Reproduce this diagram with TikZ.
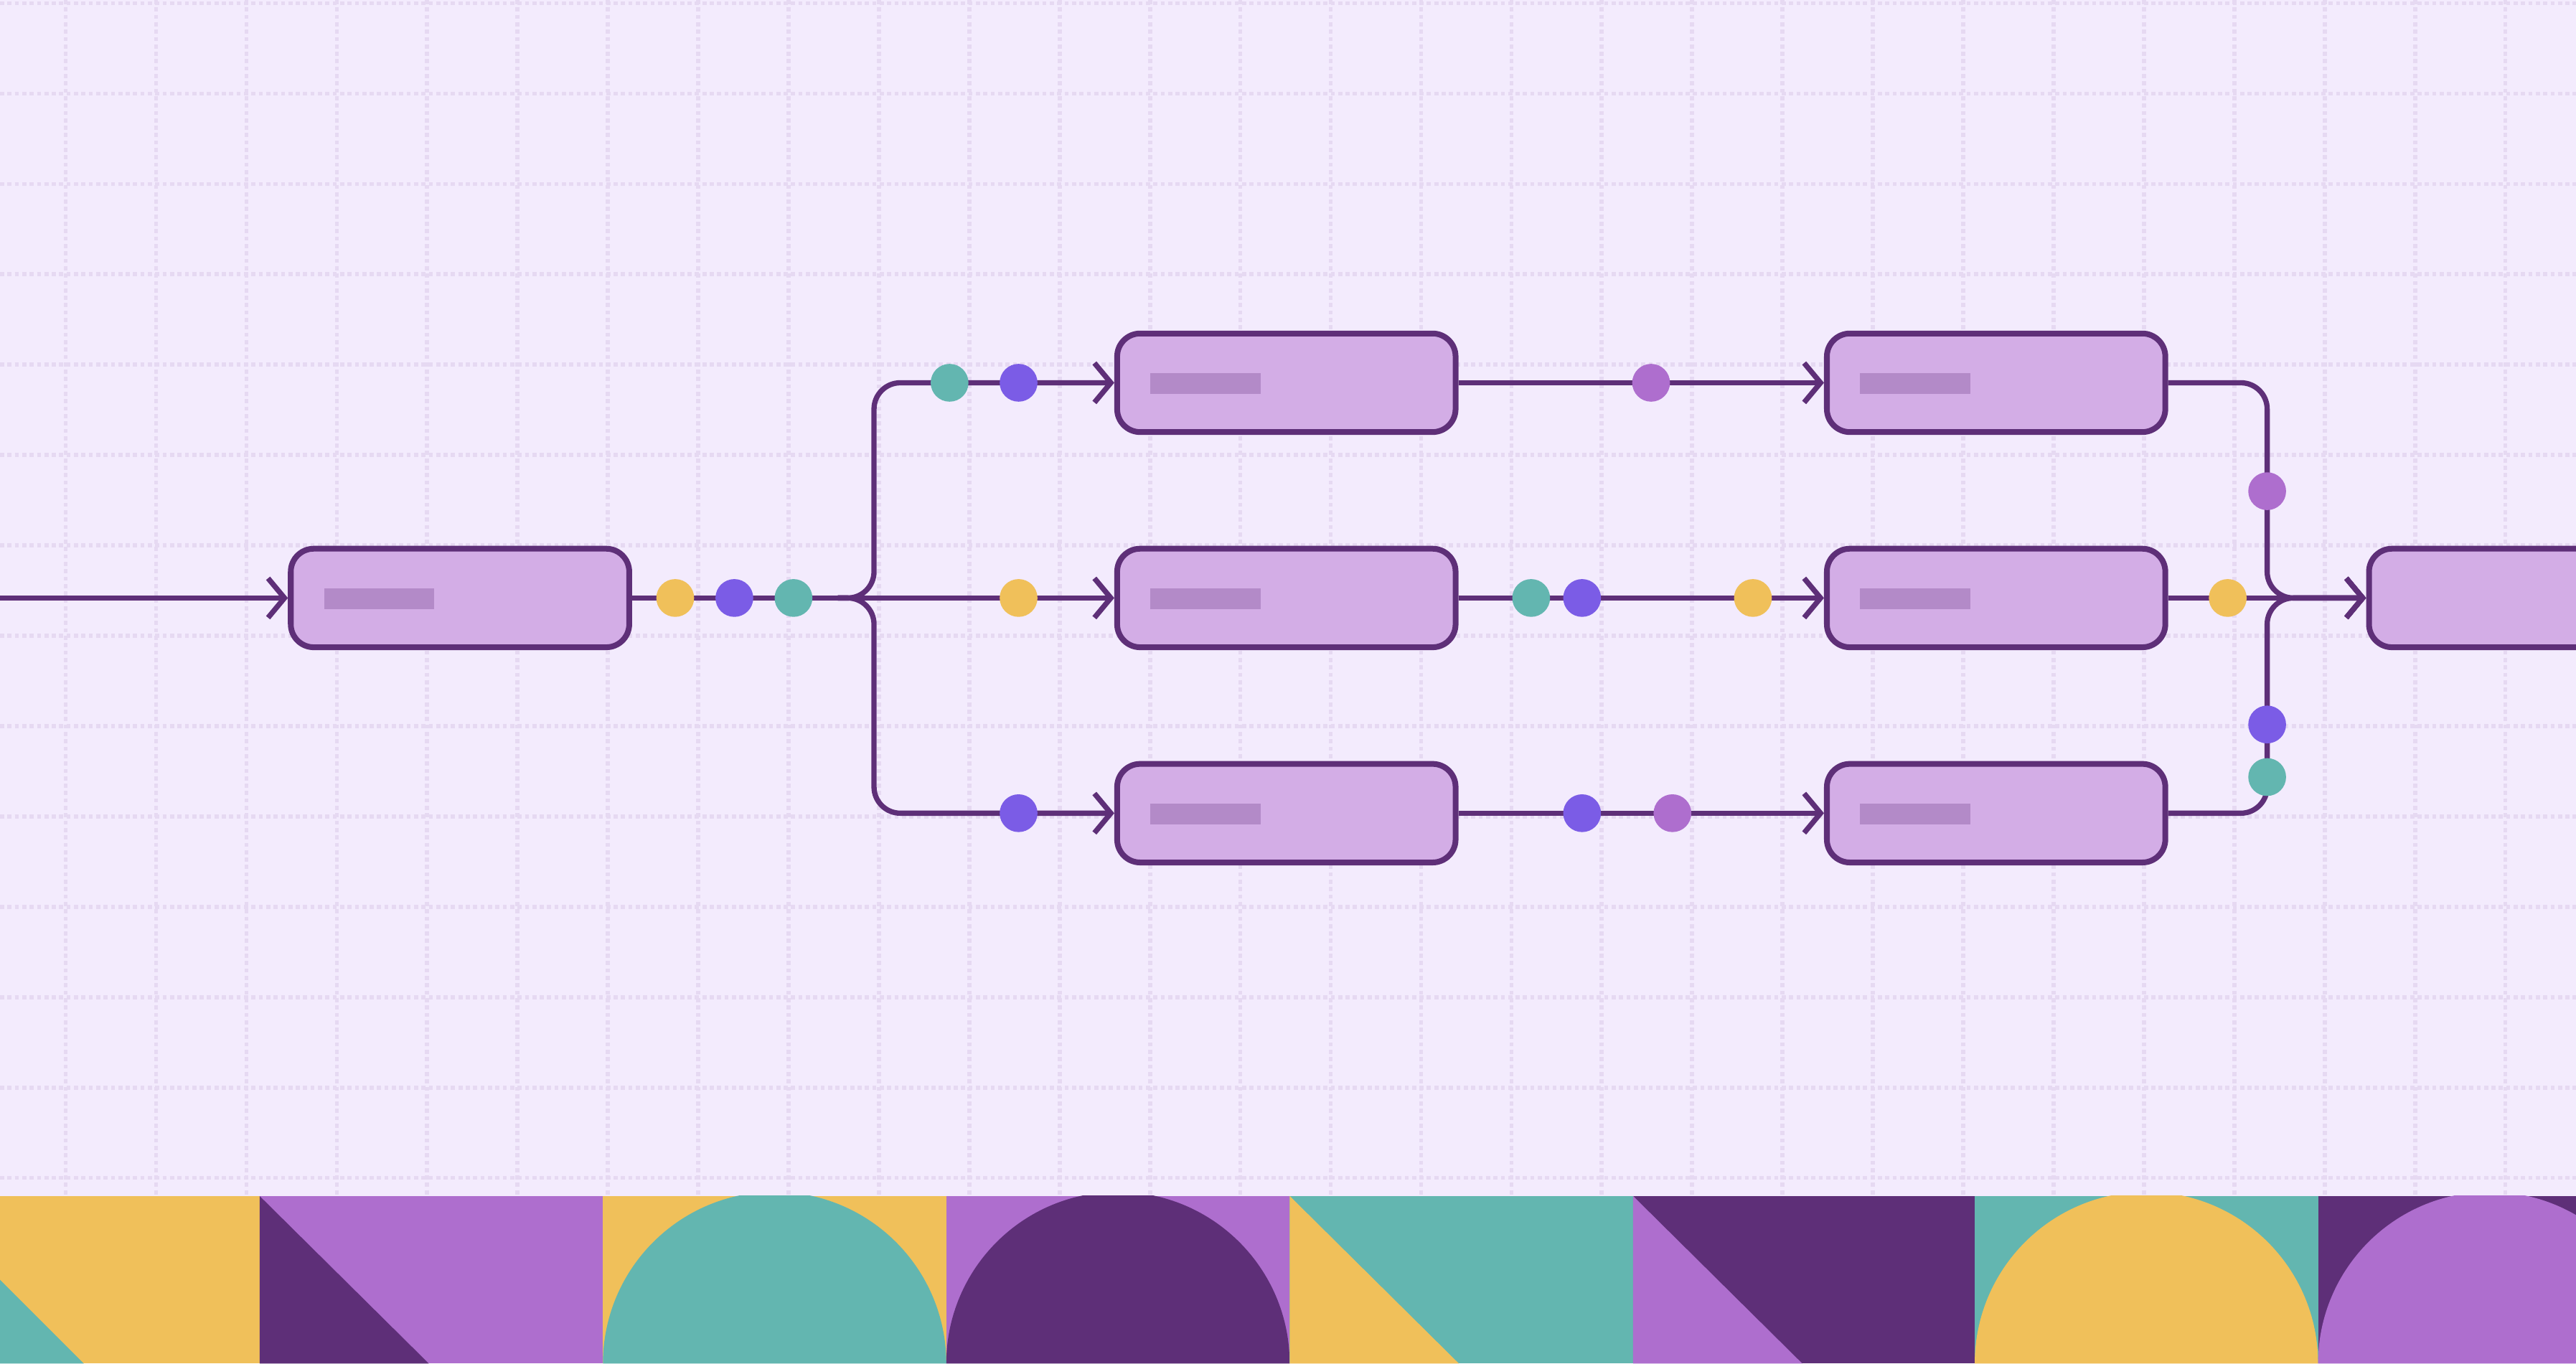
\documentclass[tikz,border=0pt]{standalone}
\usetikzlibrary{arrows.meta}
\definecolor{bg}{HTML}{F3EBFD}
\definecolor{gridc}{HTML}{E6D9F2}
\definecolor{dk}{HTML}{5E2F78}
\definecolor{nodef}{HTML}{D3ADE6}
\definecolor{barc}{HTML}{B38AC8}
\definecolor{yel}{HTML}{F0C05A}
\definecolor{tea}{HTML}{63B6B0}
\definecolor{blu}{HTML}{7B5CE6}
\definecolor{lil}{HTML}{AE6ECE}
\tikzset{
  box/.style={draw=dk,line width=3.5pt,fill=nodef,rounded corners=14pt,minimum width=206pt,minimum height=60pt,inner sep=0pt},
  conn/.style={draw=dk,line width=3.2pt,rounded corners=16pt},
  arr/.style={-{Straight Barb[length=10pt,width=24pt,line width=3.2pt]}},
  dot/.style={circle,minimum size=23pt,inner sep=0pt},
}
\begin{document}
\begin{tikzpicture}[x=1pt,y=-1pt]
\useasboundingbox (0,0) rectangle (1568,830);
\clip (0,0) rectangle (1568,830);
\fill[bg] (0,0) rectangle (1568,830);
\foreach \x in {40,95,...,1580} \draw[gridc,line width=2.5pt,dotted] (\x,0) -- (\x,728);
\foreach \y in {2,57,...,720} \draw[gridc,line width=2.5pt,dotted] (0,\y) -- (1568,\y);
% nodes
\node[box] (A) at (280,364) {};
\node[box] (B1) at (783,233) {};
\node[box] (B2) at (783,364) {};
\node[box] (B3) at (783,495) {};
\node[box] (C1) at (1215,233) {};
\node[box] (C2) at (1215,364) {};
\node[box] (C3) at (1215,495) {};
\node[box] (D) at (1545,364) {};
\foreach \n in {A,B1,B2,B3,C1,C2,C3}
  \fill[barc] ([shift={(22,-6)}]\n.west) rectangle ++(67,13);
% connectors
\coordinate (in) at (0,364);
\coordinate (br) at (510,364);
\draw[conn,arr] (in) -- (A.west);
\draw[conn] (A.east) -- (br);
\draw[conn,arr] (br) -- (B2.west);
\draw[conn,arr] (br) -- (532,364) -- (532,233) -- (B1.west);
\draw[conn,arr] (br) -- (532,364) -- (532,495) -- (B3.west);
\draw[conn,arr] (B1.east) -- (C1.west);
\draw[conn,arr] (B2.east) -- (C2.west);
\draw[conn,arr] (B3.east) -- (C3.west);
\draw[conn,arr] (C1.east) -- (1380,233) -- (1380,364) -- (D.west);
\draw[conn,arr] (C3.east) -- (1380,495) -- (1380,364) -- (D.west);
\draw[conn,arr] (C2.east) -- (D.west);
% dots
\node[dot,fill=yel] (d1) at (411,364) {};
\node[dot,fill=blu] (d2) at (447,364) {};
\node[dot,fill=tea] (d3) at (483,364) {};
\node[dot,fill=tea] (d4) at (578,233) {};
\node[dot,fill=blu] (d5) at (620,233) {};
\node[dot,fill=yel] (d6) at (620,364) {};
\node[dot,fill=blu] (d7) at (620,495) {};
\node[dot,fill=lil] (d8) at (1005,233) {};
\node[dot,fill=tea] (d9) at (932,364) {};
\node[dot,fill=blu] (d10) at (963,364) {};
\node[dot,fill=yel] (d11) at (1067,364) {};
\node[dot,fill=blu] (d12) at (963,495) {};
\node[dot,fill=lil] (d13) at (1018,495) {};
\node[dot,fill=lil] (d14) at (1380,299) {};
\node[dot,fill=yel] (d15) at (1356,364) {};
\node[dot,fill=blu] (d16) at (1380,441) {};
\node[dot,fill=tea] (d17) at (1380,473) {};
% bottom band
\begin{scope}
\clip (0,728) rectangle (1568,830);
\fill[yel] (0,728) rectangle (158,830);
\fill[tea] (-51,728) -- (51,830) -- (-51,830) -- cycle;
\fill[lil] (158,728) rectangle (367,830);
\fill[dk] (158,728) -- (261,830) -- (158,830) -- cycle;
\fill[yel] (367,728) rectangle (576,830);
\fill[tea] (367,830) arc[start angle=180,end angle=360,radius=104.5] -- cycle;
\fill[lil] (576,728) rectangle (785,830);
\fill[dk] (576,830) arc[start angle=180,end angle=360,radius=104.5] -- cycle;
\fill[tea] (785,728) rectangle (994,830);
\fill[yel] (785,728) -- (888,830) -- (785,830) -- cycle;
\fill[dk] (994,728) rectangle (1202,830);
\fill[lil] (994,728) -- (1097,830) -- (994,830) -- cycle;
\fill[tea] (1202,728) rectangle (1411,830);
\fill[yel] (1202,830) arc[start angle=180,end angle=360,radius=104.5] -- cycle;
\fill[dk] (1411,728) rectangle (1620,830);
\fill[lil] (1411,830) arc[start angle=180,end angle=360,radius=104.5] -- cycle;
\end{scope}
\end{tikzpicture}
\end{document}
